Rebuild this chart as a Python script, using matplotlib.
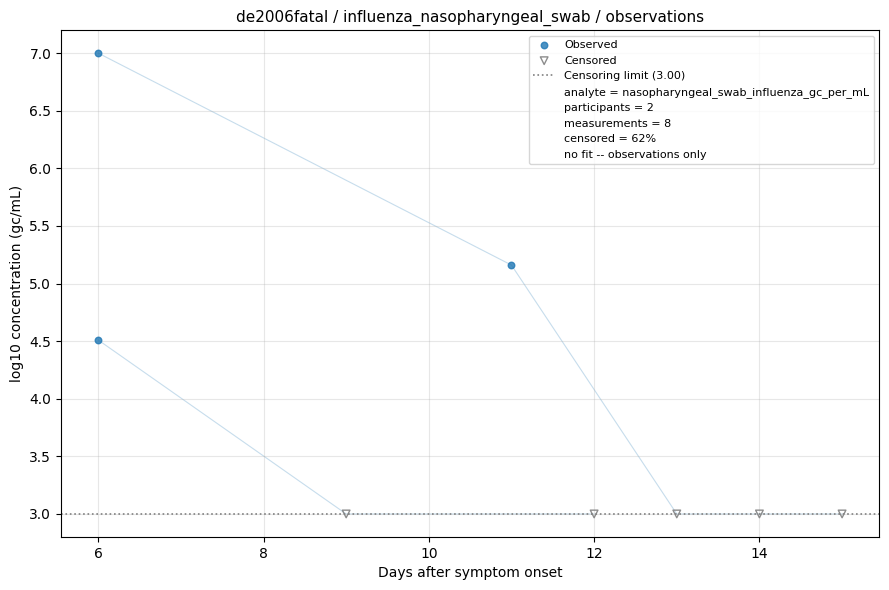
import matplotlib
matplotlib.use("Agg")
import matplotlib.pyplot as plt
from matplotlib.lines import Line2D

# participant series (day, log10 value, censored flag)
p1_days = [6, 11, 13, 14, 15]
p1_vals = [7.0, 5.16, 3.0, 3.0, 3.0]
p1_cens = [False, False, True, True, True]

p2_days = [6, 9, 12]
p2_vals = [4.51, 3.0, 3.0]
p2_cens = [False, True, True]

limit = 3.0
analyte = "nasopharyngeal_swab_influenza_gc_per_mL"

fig, ax = plt.subplots(figsize=(8.89, 5.9), dpi=100)

obs_x, obs_y, cen_x, cen_y = [], [], [], []
for days, vals, cens in [(p1_days, p1_vals, p1_cens), (p2_days, p2_vals, p2_cens)]:
    ax.plot(days, vals, color="tab:blue", alpha=0.25, lw=0.8, zorder=1)
    for d, v, c in zip(days, vals, cens):
        if c:
            cen_x.append(d)
            cen_y.append(v)
        else:
            obs_x.append(d)
            obs_y.append(v)

ax.scatter(obs_x, obs_y, s=22, color="tab:blue", alpha=0.8, label="Observed", zorder=3)
ax.scatter(cen_x, cen_y, s=30, marker="v", facecolors="none", edgecolors="gray",
           alpha=0.9, label="Censored", zorder=3)
ax.axhline(limit, color="gray", ls=":", lw=1.2, label=f"Censoring limit ({limit:.2f})")

n_meas = len(obs_x) + len(cen_x)
pct = int(100 * len(cen_x) / n_meas)
extra = [
    f"analyte = {analyte}",
    "participants = 2",
    f"measurements = {n_meas}",
    f"censored = {pct}%",
    "no fit -- observations only",
]
handles, labels = ax.get_legend_handles_labels()
for t in extra:
    handles.append(Line2D([], [], linestyle="none", marker=None))
    labels.append(t)
ax.legend(handles, labels, loc="upper right", fontsize=8)

ax.grid(True, alpha=0.3)
ax.set_xlabel("Days after symptom onset")
ax.set_ylabel("log10 concentration (gc/mL)")
ax.set_title("de2006fatal / influenza_nasopharyngeal_swab / observations", fontsize=11)
fig.tight_layout(pad=0.7)
fig.savefig("out.png")
